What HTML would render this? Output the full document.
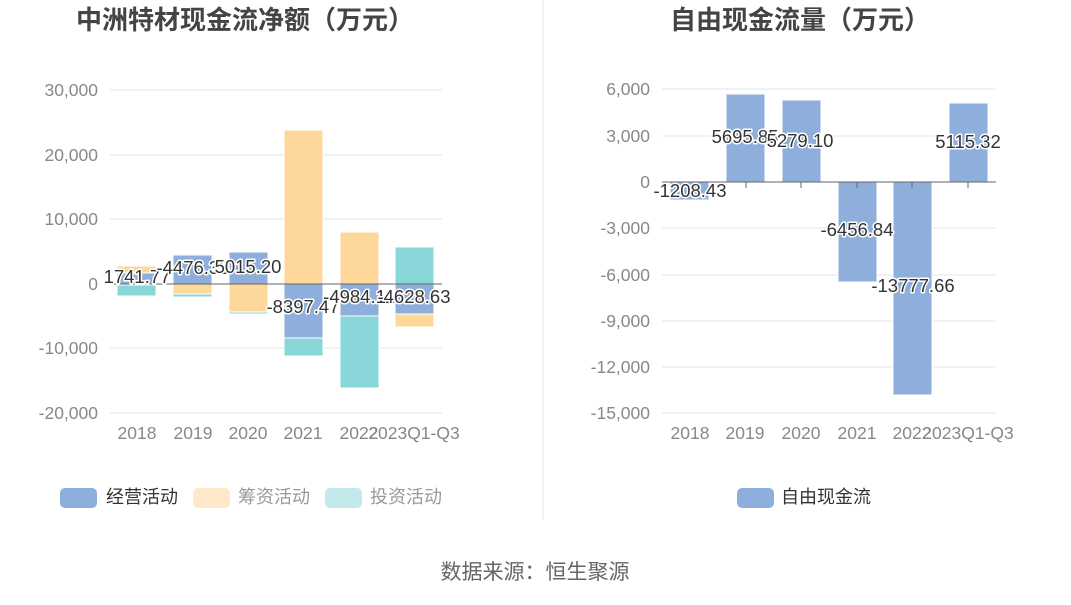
<!DOCTYPE html>
<html><head><meta charset="utf-8"><style>
body{margin:0;background:#fff;}
svg text{font-family:"Liberation Sans","Noto Sans CJK SC",sans-serif;}
.lbl{font-size:18.5px;fill:#333;stroke:#fff;stroke-width:3px;paint-order:stroke;stroke-linejoin:round;}
.ax{font-size:17.5px;fill:#888;}
</style></head><body>
<svg width="1071" height="600" xmlns="http://www.w3.org/2000/svg">
<rect width="1071" height="600" fill="#fff"/>
<line x1="543" y1="0" x2="543" y2="520" stroke="#e8e8e8"/>
<text x="245" y="29" text-anchor="middle" font-size="26" font-weight="bold" fill="#444">中洲特材现金流净额（万元）</text>
<text x="800" y="29" text-anchor="middle" font-size="26" font-weight="bold" fill="#444">自由现金流量（万元）</text>
<g stroke="#e0e4f0">
<line x1="110" y1="90" x2="442" y2="90"/><line x1="110" y1="155" x2="442" y2="155"/>
<line x1="110" y1="219" x2="442" y2="219"/><line x1="110" y1="348" x2="442" y2="348"/>
<line x1="110" y1="413" x2="442" y2="413"/></g>
<g class="ax" text-anchor="end">
<text x="98" y="96">30,000</text><text x="98" y="161">20,000</text><text x="98" y="225">10,000</text>
<text x="98" y="290">0</text><text x="98" y="354">-10,000</text><text x="98" y="419">-20,000</text></g>
<g class="ax" text-anchor="middle">
<text x="137" y="439">2018</text><text x="193" y="439">2019</text><text x="248" y="439">2020</text>
<text x="303" y="439">2021</text><text x="359" y="439">2022</text><text x="414" y="439">2023Q1-Q3</text></g>
<g stroke="#fff" stroke-width="1">
<rect x="117" y="266" width="39" height="7" fill="#fed89a"/><rect x="117" y="273" width="39" height="11" fill="#8eaedb"/><rect x="117" y="285" width="39" height="11" fill="#88d6d8"/>
<rect x="173" y="255" width="39" height="29" fill="#8eaedb"/><rect x="173" y="284" width="39" height="10" fill="#fed89a"/><rect x="173" y="294" width="39" height="3" fill="#88d6d8"/>
<rect x="229" y="252" width="39" height="32" fill="#8eaedb"/><rect x="229" y="284" width="39" height="28" fill="#fed89a"/><rect x="229" y="312" width="39" height="2" fill="#88d6d8"/>
<rect x="284" y="130" width="39" height="154" fill="#fed89a"/><rect x="284" y="284" width="39" height="54" fill="#8eaedb"/><rect x="284" y="338" width="39" height="18" fill="#88d6d8"/>
<rect x="340" y="232" width="39" height="52" fill="#fed89a"/><rect x="340" y="284" width="39" height="32" fill="#8eaedb"/><rect x="340" y="316" width="39" height="72" fill="#88d6d8"/>
<rect x="395" y="247" width="39" height="37" fill="#88d6d8"/><rect x="395" y="284" width="39" height="30" fill="#8eaedb"/><rect x="395" y="314" width="39" height="13" fill="#fed89a"/>
</g>
<line x1="110" y1="284" x2="442" y2="284" stroke="#666"/>
<g class="lbl" text-anchor="middle">
<text x="137" y="283">1741.77</text><text x="193" y="274">-4476.35</text><text x="248" y="273">5015.20</text>
<text x="303" y="313">-8397.47</text><text x="359" y="303">-4984.11</text><text x="414" y="303">-4628.63</text></g>
<g stroke="#e0e4f0">
<line x1="662" y1="89" x2="996" y2="89"/><line x1="662" y1="136" x2="996" y2="136"/>
<line x1="662" y1="228" x2="996" y2="228"/><line x1="662" y1="275" x2="996" y2="275"/>
<line x1="662" y1="321" x2="996" y2="321"/><line x1="662" y1="367" x2="996" y2="367"/>
<line x1="662" y1="413" x2="996" y2="413"/></g>
<g class="ax" text-anchor="end">
<text x="650" y="95">6,000</text><text x="650" y="142">3,000</text><text x="650" y="188">0</text>
<text x="650" y="234">-3,000</text><text x="650" y="281">-6,000</text><text x="650" y="327">-9,000</text>
<text x="650" y="373">-12,000</text><text x="650" y="419">-15,000</text></g>
<g class="ax" text-anchor="middle">
<text x="690" y="439">2018</text><text x="745" y="439">2019</text><text x="801" y="439">2020</text>
<text x="857" y="439">2021</text><text x="912" y="439">2022</text><text x="968" y="439">2023Q1-Q3</text></g>
<g fill="#8eaedb" stroke="#fff">
<rect x="670" y="182" width="39" height="18"/><rect x="726" y="94" width="39" height="88"/>
<rect x="782" y="100" width="39" height="82"/><rect x="838" y="182" width="39" height="100"/>
<rect x="893" y="182" width="39" height="213"/><rect x="949" y="103" width="39" height="79"/></g>
<line x1="662" y1="182" x2="996" y2="182" stroke="#666"/>
<g stroke="#666"><line x1="746" y1="182" x2="746" y2="188"/><line x1="801" y1="182" x2="801" y2="188"/><line x1="857" y1="182" x2="857" y2="188"/><line x1="912" y1="182" x2="912" y2="188"/><line x1="968" y1="182" x2="968" y2="188"/></g>
<g class="lbl" text-anchor="middle">
<text x="690" y="197">-1208.43</text><text x="745" y="143">5695.85</text><text x="800" y="147">5279.10</text>
<text x="857" y="236">-6456.84</text><text x="913" y="292">-13777.66</text><text x="968" y="148">5115.32</text></g>
<rect x="60" y="488" width="37" height="20" rx="5" fill="#8eaedb"/><text x="106" y="503" font-size="18" fill="#333">经营活动</text>
<rect x="193" y="488" width="37" height="20" rx="5" fill="#fde9c9"/><text x="238" y="503" font-size="18" fill="#999">筹资活动</text>
<rect x="325" y="488" width="37" height="20" rx="5" fill="#c4e9ea"/><text x="370" y="503" font-size="18" fill="#999">投资活动</text>
<rect x="737" y="488" width="37" height="20" rx="5" fill="#8eaedb"/><text x="781" y="503" font-size="18" fill="#333">自由现金流</text>
<text x="535" y="579" text-anchor="middle" font-size="21" fill="#666">数据来源：恒生聚源</text>
</svg>
</body></html>
